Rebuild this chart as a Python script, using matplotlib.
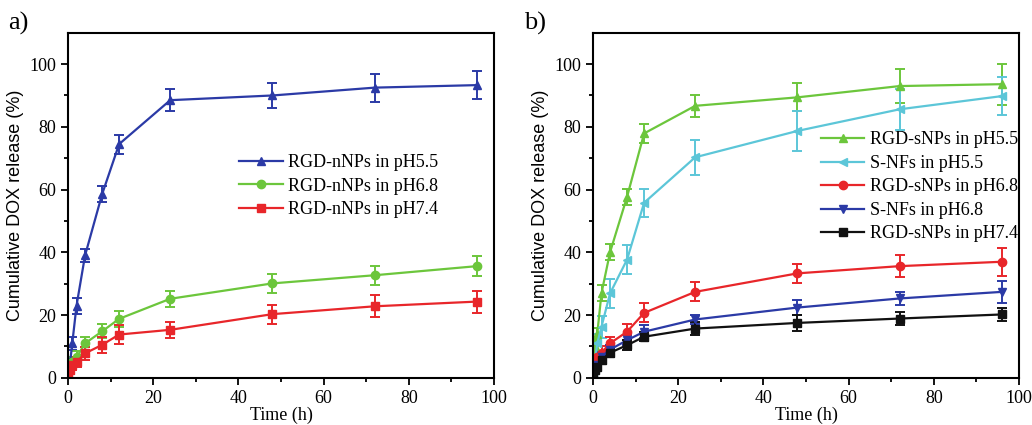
import matplotlib.pyplot as plt
import numpy as np

plt.rcParams['font.family'] = ['Liberation Serif', 'DejaVu Serif']

t = [0, 0.5, 1, 2, 4, 8, 12, 24, 48, 72, 96]

# panel a)
a_labels = ['RGD-nNPs in pH5.5', 'RGD-nNPs in pH6.8', 'RGD-nNPs in pH7.4']
a_ph55 = [0, 5, 11, 23, 39, 58.5, 74.5, 88.5, 90, 92.5, 93.3]
a_ph55_err = [0, 1.5, 2, 2.5, 2, 2.5, 3, 3.5, 4, 4.5, 4.5]
a_ph68 = [0, 3.5, 5, 6.5, 11, 14.8, 18.8, 25.2, 30.1, 32.7, 35.6]
a_ph68_err = [0, 1.5, 1.5, 2, 2, 2.2, 2.5, 2.5, 3, 3, 3.2]
a_ph74 = [0, 2.5, 4, 5, 7.8, 10.5, 13.8, 15.3, 20.3, 22.8, 24.3]
a_ph74_err = [0, 1.2, 1.5, 1.5, 2, 2.5, 3, 2.5, 3, 3.5, 3.5]

# panel b)
b_labels = ['RGD-sNPs in pH5.5', 'S-NFs in pH5.5', 'RGD-sNPs in pH6.8',
            'S-NFs in pH6.8', 'RGD-sNPs in pH7.4']
b_s55 = [0, 10, 14, 27, 40, 57.7, 77.9, 86.7, 89.4, 93, 93.6]
b_s55_err = [0, 2, 2, 2.5, 2.5, 2.5, 3, 3.5, 4.5, 5.5, 6.5]
b_nf55 = [0, 6, 11, 16.3, 26.9, 37.7, 55.8, 70.3, 78.7, 85.6, 89.8]
b_nf55_err = [0, 2, 3, 3.5, 4.5, 4.5, 4.5, 5.5, 6.5, 6.5, 6]
b_s68 = [0, 4.5, 6.7, 8, 11, 14.7, 20.7, 27.4, 33.3, 35.6, 37]
b_s68_err = [0, 1.5, 2, 2, 2, 2.5, 3, 3, 3, 3.5, 4.5]
b_nf68 = [0, 3, 4, 6.7, 9, 12, 14.7, 18.6, 22.4, 25.3, 27.4]
b_nf68_err = [0, 1, 1.5, 1.5, 1.5, 1.5, 2, 1.5, 2.5, 2, 3.5]
b_s74 = [0, 2.5, 3.5, 5.6, 8, 10.4, 13.1, 15.7, 17.5, 18.9, 20.2]
b_s74_err = [0, 1, 1, 1.2, 1.5, 1.5, 1.5, 2, 2.5, 2, 2]

blue = '#2b3aa6'
green = '#6cc63c'
red = '#e8262a'
cyan = '#5cc6d8'
black = '#111111'

fig = plt.figure(figsize=(10.32, 4.25), dpi=100)
ax1 = fig.add_axes([0.0659, 0.111, 0.4128, 0.812])
ax2 = fig.add_axes([0.5746, 0.111, 0.4128, 0.812])


def draw(ax, y, err, color, marker):
    c = ax.errorbar(t, y, yerr=err, color=color, marker=marker, markersize=6,
                    linewidth=1.6, elinewidth=1.4, capsize=3.5, capthick=1.4)
    return c.lines[0]


h1 = [draw(ax1, a_ph55, a_ph55_err, blue, '^'),
      draw(ax1, a_ph68, a_ph68_err, green, 'o'),
      draw(ax1, a_ph74, a_ph74_err, red, 's')]

h2 = [draw(ax2, b_s55, b_s55_err, green, '^'),
      draw(ax2, b_nf55, b_nf55_err, cyan, '<'),
      draw(ax2, b_s68, b_s68_err, red, 'o'),
      draw(ax2, b_nf68, b_nf68_err, blue, 'v'),
      draw(ax2, b_s74, b_s74_err, black, 's')]

for ax in (ax1, ax2):
    ax.set_xlim(0, 100)
    ax.set_ylim(0, 110)
    ax.set_xticks(np.arange(0, 101, 20))
    ax.set_xticks(np.arange(10, 100, 20), minor=True)
    ax.set_yticks(np.arange(0, 101, 20))
    ax.set_yticks(np.arange(10, 110, 20), minor=True)
    ax.tick_params(which='both', direction='out', labelsize=13, width=1.3)
    ax.tick_params(which='major', length=5)
    ax.tick_params(which='minor', length=3)
    for s in ax.spines.values():
        s.set_linewidth(1.5)
    ax.set_xlabel('Time (h)', fontsize=13, labelpad=0)
    ax.set_ylabel('Cumulative DOX release (%)', fontsize=13,
                  family='Liberation Sans', labelpad=4)

ax1.legend(h1, a_labels, loc='upper left', bbox_to_anchor=(0.385, 0.669),
           frameon=False, fontsize=13, handlelength=2.4, handletextpad=0.3,
           labelspacing=0.36, borderaxespad=0)
ax2.legend(h2, b_labels, loc='upper left', bbox_to_anchor=(0.518, 0.735),
           frameon=False, fontsize=13, handlelength=2.4, handletextpad=0.3,
           labelspacing=0.36, borderaxespad=0)

fig.text(0.008, 0.93, 'a)', fontsize=19)
fig.text(0.508, 0.93, 'b)', fontsize=19)

fig.savefig('out.png', dpi=100)
